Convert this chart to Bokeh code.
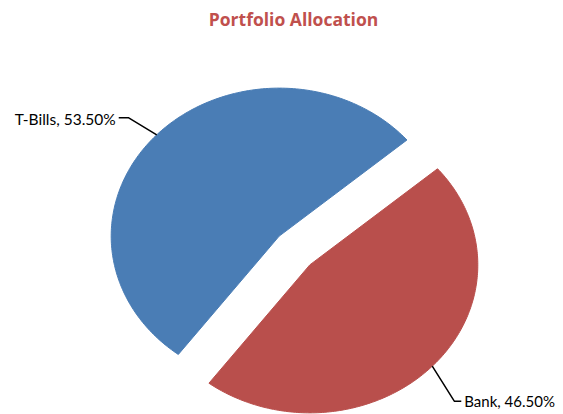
import numpy as np
from bokeh.plotting import figure
from bokeh.models import Range1d, ColumnDataSource
from bokeh.core.properties import value
from bokeh.embed import file_html
from bokeh.resources import INLINE

# ---- data ----
categories = ["T-Bills", "Bank"]
shares = [53.5, 46.5]
colors = ["#4A7DB5", "#B94F4C"]
title_text = "Portfolio Allocation"

# ---- geometry (layout, in reference pixel coordinates) ----
CX, CY = 294.0, 250.0      # pie centre
RX, RY = 168.0, 148.0      # ellipse radii
START_DEG = 40.5           # start angle of first slice (counter-clockwise)
EXPLODE = 21.0             # explode distance

W, H = 563, 414
p = figure(width=W, height=H, output_backend="svg", toolbar_location=None,
           x_range=Range1d(0, W), y_range=Range1d(H, 0),
           min_border=0, outline_line_color=None, background_fill_color="white")
p.axis.visible = False
p.grid.visible = False

total = sum(shares)
angle = START_DEG
xs, ys, mids, centers = [], [], [], []
for s in shares:
    span = 360.0 * s / total
    a0, a1 = np.radians(angle), np.radians(angle + span)
    mid = (a0 + a1) / 2
    ox = CX + EXPLODE * np.cos(mid)
    oy = CY - EXPLODE * np.sin(mid)
    t = np.linspace(a0, a1, 200)
    px = np.concatenate([[ox], ox + RX * np.cos(t), [ox]])
    py = np.concatenate([[oy], oy - RY * np.sin(t), [oy]])
    xs.append(list(px))
    ys.append(list(py))
    mids.append(mid)
    centers.append((ox, oy))
    angle += span

src = ColumnDataSource(dict(xs=xs, ys=ys, color=colors))
p.patches("xs", "ys", source=src, fill_color="color", line_color="color", line_width=1)

# ---- labels with leader lines ----
labels = [f"{c}, {s:.2f}%" for c, s in zip(categories, shares)]
for i, (lab, mid, (ox, oy)) in enumerate(zip(labels, mids, centers)):
    ax = ox + RX * np.cos(mid)
    ay = oy - RY * np.sin(mid)
    if i == 0:
        ex, ey = ax - 28, ay - 17
        tx = ex - 10
        p.line([ax, ex, tx], [ay, ey, ey], line_color="black", line_width=1.5)
        p.text([tx - 3], [ey + 1], text=[lab], text_align="right", text_baseline="alphabetic",
               text_font=value("Lato"), text_font_size="15.5px", text_color="black")
    else:
        ex, ey = ax + 22, ay + 35
        tx = ex + 7
        p.line([ax, ex, tx], [ay, ey, ey], line_color="black", line_width=1.5)
        p.text([tx + 3], [ey], text=[lab], text_align="left", text_baseline="middle",
               text_font=value("Lato"), text_font_size="15px", text_color="black")

# ---- title ----
p.text([293], [18], text=[title_text], text_align="center", text_baseline="middle",
       text_font=value("Open Sans"), text_font_style="bold", text_font_size="17.5px",
       text_color="#C0504D")

open("out.html", "w").write(file_html(p, INLINE))
